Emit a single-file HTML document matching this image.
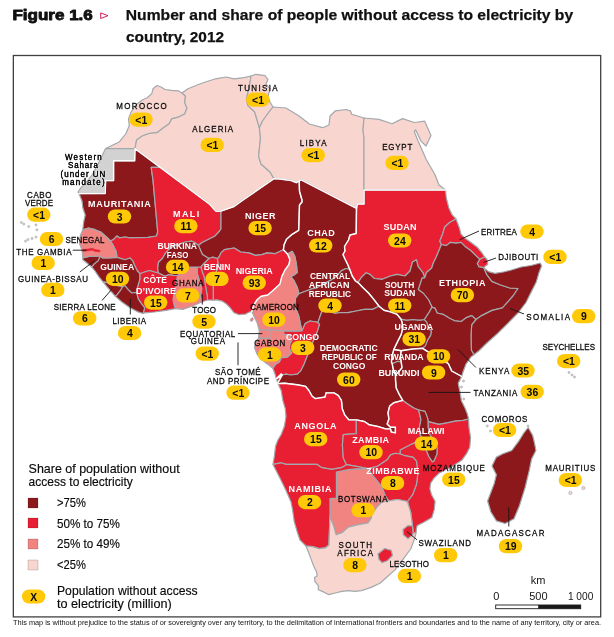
<!DOCTYPE html>
<html lang="en"><head><meta charset="utf-8"><title>Figure 1.6</title>
<style>
html,body{margin:0;padding:0;background:#fff;}
body{width:614px;height:637px;overflow:hidden;position:relative;font-family:"Liberation Sans",sans-serif;}
svg{position:absolute;left:0;top:0;display:block;}
text{font-family:"Liberation Sans",sans-serif;}
</style></head><body>
<svg width="614" height="637" viewBox="0 0 614 637">
<rect x="0" y="0" width="614" height="637" fill="#fff"/>
<g stroke="#a2a8ac" stroke-width="1.2" stroke-linejoin="round">
<polygon fill="#f8d6cf" points="105.6,148.6 109.8,146.5 119.5,141.7 126.0,133.5 129.3,125.4 128.5,118.9 131.0,112.3 135.8,105.0 142.3,100.0 147.2,97.7 151.8,93.6 153.0,88.7 157.0,85.5 161.0,87.0 165.0,89.5 171.7,90.4 178.2,90.8 182.0,93.0 185.5,96.0 184.7,102.6 187.0,108.3 184.7,114.0 178.2,117.2 171.7,118.9 169.2,123.7 163.5,127.8 157.0,132.7 148.9,133.5 142.3,136.0 136.6,140.0 135.0,148.6"/>
<polygon fill="#d2d2d2" points="79.0,193.6 78.0,192.0 81.0,187.7 86.0,182.5 92.0,175.0 97.0,166.0 101.7,156.4 105.6,148.6 135.0,148.6 134.7,160.8 113.6,160.8 113.6,180.6 105.6,180.6 105.2,193.5"/>
<polygon fill="#f8d6cf" points="182.0,93.0 188.0,88.7 197.7,84.7 207.0,81.5 215.6,78.8 226.0,77.0 234.0,78.8 244.0,77.7 251.0,76.0 249.5,86.0 246.4,99.0 248.0,105.6 254.7,112.0 259.4,128.0 260.5,138.0 258.6,156.4 261.0,164.0 270.0,172.0 274.0,178.6 242.0,200.8 234.0,206.5 221.0,211.0 216.3,211.4 214.6,209.8 210.0,204.5 160.3,167.4 135.0,148.6 136.6,140.0 142.3,136.0 148.9,133.5 157.0,132.7 163.5,127.8 169.2,123.7 171.7,118.9 178.2,117.2 184.7,114.0 187.0,108.3 184.7,102.6 185.5,96.0"/>
<polygon fill="#f8d6cf" points="251.0,76.0 256.0,74.3 265.0,75.6 268.0,79.5 266.0,84.0 270.0,88.7 268.0,96.5 270.0,102.0 273.0,107.0 269.0,112.0 262.5,121.0 259.4,128.0 254.7,112.0 248.0,105.6 246.4,99.0 249.5,86.0"/>
<polygon fill="#f8d6cf" points="273.0,107.0 286.0,108.0 299.0,116.0 309.4,124.0 322.5,127.7 329.0,125.0 330.0,116.0 335.5,110.8 346.0,109.5 350.4,110.8 351.7,114.2 364.0,118.0 363.0,130.0 364.0,138.0 364.0,190.0 364.0,204.0 357.4,204.0 356.5,208.3 301.2,179.8 299.2,181.0 296.3,182.7 291.4,180.6 280.0,179.0 274.0,178.6 270.0,172.0 261.0,164.0 258.6,156.4 260.5,138.0 259.4,128.0 262.5,121.0 269.0,112.0"/>
<polygon fill="#f8d6cf" points="364.0,118.0 379.0,119.4 392.0,123.8 402.5,118.6 414.3,122.5 424.7,121.2 431.0,135.6 426.0,146.0 420.8,140.8 415.6,129.8 414.3,131.7 418.0,140.8 426.0,159.0 435.0,174.7 439.0,185.0 445.5,190.0 364.0,190.0 364.0,138.0 363.0,130.0"/>
<polygon fill="#8c181b" points="79.0,193.6 105.2,193.5 105.6,180.6 113.6,180.6 113.6,160.8 134.7,160.8 135.0,148.6 160.3,167.4 151.2,167.4 153.0,180.0 157.7,232.0 156.5,236.0 148.0,237.3 130.0,237.8 125.0,237.0 119.4,237.8 117.0,236.0 113.7,239.4 110.5,241.0 107.2,237.8 100.7,232.0 95.0,229.7 88.5,228.0 82.8,229.7 83.6,222.3 85.2,215.0 82.8,207.7 82.0,201.0"/>
<polygon fill="#e81f33" points="160.3,167.4 210.0,204.5 214.6,209.8 216.3,211.4 221.0,211.0 221.0,229.0 219.6,231.0 214.7,236.3 208.2,239.5 201.7,242.8 198.4,245.5 195.0,242.8 191.9,241.2 185.4,242.0 178.0,244.5 170.7,247.7 165.8,252.6 162.6,258.3 158.5,262.3 157.7,268.9 158.5,273.0 154.4,272.0 149.5,270.5 144.7,272.0 139.8,273.7 137.4,271.0 135.0,266.3 132.5,260.6 130.0,258.0 125.0,259.8 117.0,257.4 116.2,251.7 113.0,245.0 110.5,241.0 113.7,239.4 117.0,236.0 119.4,237.8 125.0,237.0 130.0,237.8 148.0,237.3 156.5,236.0 157.7,232.0 153.0,180.0 151.2,167.4"/>
<polygon fill="#8c181b" points="221.0,211.0 234.0,206.5 242.0,200.8 274.0,178.6 280.0,179.0 291.4,180.6 296.3,182.7 299.2,181.0 299.5,191.2 302.0,200.0 302.0,202.0 299.5,205.0 298.7,230.3 292.2,234.3 286.5,239.2 284.0,245.0 283.4,249.8 274.9,253.7 266.8,252.9 261.9,254.6 255.4,255.4 248.9,252.9 240.7,252.0 234.2,248.0 224.4,249.7 221.2,252.6 218.6,257.8 217.3,258.5 212.5,257.2 208.9,258.5 206.5,257.0 202.4,254.5 200.4,250.0 198.4,245.5 201.7,242.8 208.2,239.5 214.7,236.3 219.6,231.0 221.0,229.0"/>
<polygon fill="#8c181b" points="299.2,181.0 301.2,179.8 356.5,208.3 356.2,233.5 350.0,235.0 348.5,240.0 344.5,246.5 345.0,251.0 343.0,254.5 345.0,259.0 347.5,264.0 349.8,269.5 346.0,268.5 341.2,270.9 336.3,276.6 331.4,279.9 323.3,284.0 316.8,288.0 311.9,288.9 305.4,291.3 298.9,293.7 297.2,287.2 294.0,280.7 290.7,276.6 294.0,275.0 297.2,272.6 296.4,264.4 294.8,256.3 292.3,251.4 287.5,254.0 283.4,249.8 284.0,245.0 286.5,239.2 292.2,234.3 298.7,230.3 299.5,205.0 302.0,202.0 302.0,200.0 299.5,191.2"/>
<polygon fill="#e81f33" points="364.0,190.0 445.5,190.0 446.3,198.0 448.8,207.7 452.0,214.7 456.0,219.0 449.6,222.5 444.7,227.0 442.6,234.0 439.8,241.0 441.4,244.5 439.8,248.4 436.5,256.5 433.3,263.0 431.7,268.0 426.5,272.5 424.7,277.7 423.0,272.8 418.0,266.3 416.5,259.8 412.5,262.0 410.0,271.0 405.0,276.0 397.0,274.4 390.5,276.0 382.3,279.3 374.2,278.5 370.0,274.4 366.0,272.8 361.2,277.7 358.0,282.6 355.5,281.0 352.2,276.0 349.8,269.5 347.5,264.0 345.0,259.0 343.0,254.5 345.0,251.0 344.5,246.5 348.5,240.0 350.0,235.0 356.2,233.5 356.5,208.3 357.4,204.0 364.0,204.0"/>
<polygon fill="#e81f33" points="441.4,244.5 439.8,241.0 442.6,234.0 444.7,227.0 449.6,222.5 456.0,219.0 459.3,227.7 461.0,234.2 465.0,238.3 470.7,242.3 477.2,247.2 482.0,253.0 484.6,257.0 479.7,259.4 475.6,255.4 470.7,250.5 465.0,246.4 461.0,242.3 456.0,243.2 450.4,242.3 446.3,245.6"/>
<polygon fill="#e81f33" points="479.7,259.4 484.6,257.0 487.0,259.4 487.8,264.3 485.4,266.0 483.7,267.6 478.9,266.8 477.2,263.5"/>
<polygon fill="#8c181b" points="441.4,244.5 446.3,245.6 450.4,242.3 456.0,243.2 461.0,242.3 465.0,246.4 470.7,250.5 475.6,255.4 479.7,259.4 477.2,263.5 478.9,266.8 483.7,267.6 487.0,274.9 491.9,281.4 500.0,284.7 509.8,288.0 518.0,288.5 513.0,296.0 502.5,307.8 492.0,310.4 481.7,315.6 476.0,319.5 471.7,315.6 466.4,317.6 461.2,321.5 454.7,320.8 449.5,318.2 443.0,314.3 437.1,313.0 435.2,308.4 431.9,307.1 428.7,300.0 423.5,293.5 418.2,289.5 419.5,285.6 422.1,277.8 424.7,277.7 426.5,272.5 431.7,268.0 433.3,263.0 436.5,256.5 439.8,248.4"/>
<polygon fill="#8c181b" points="483.7,267.6 488.6,271.7 495.0,273.3 503.3,272.0 511.4,270.0 521.2,267.0 531.0,265.5 540.3,263.0 541.6,266.0 539.0,272.6 536.4,281.7 531.2,292.0 526.0,302.5 518.0,313.0 507.8,323.4 497.3,333.8 486.9,343.0 479.0,350.7 473.9,354.7 471.3,350.0 471.0,335.1 471.7,324.7 476.0,319.5 481.7,315.6 492.0,310.4 502.5,307.8 513.0,296.0 518.0,288.5 509.8,288.0 500.0,284.7 491.9,281.4 487.0,274.9"/>
<polygon fill="#8c181b" points="431.9,307.1 435.2,308.4 437.1,313.0 443.0,314.3 449.5,318.2 454.7,320.8 461.2,321.5 466.4,317.6 471.7,315.6 476.0,319.5 471.7,324.7 471.0,335.1 471.3,350.0 473.9,354.7 471.0,357.0 466.0,364.0 463.0,372.0 461.7,376.5 451.7,371.0 448.4,363.7 428.9,352.3 422.5,348.3 425.4,345.6 427.4,340.4 430.6,335.1 431.3,331.2 428.0,327.3 426.7,322.1 424.1,319.5 426.0,316.9 429.3,311.7"/>
<polygon fill="#8c181b" points="401.0,319.2 406.5,320.2 413.0,319.5 419.5,320.2 424.1,319.5 426.7,322.1 428.0,327.3 431.3,331.2 430.6,335.1 427.4,340.4 425.4,345.6 422.5,348.3 412.6,349.0 401.2,350.7 393.8,349.5 397.1,342.6 401.2,334.4 402.8,327.9 402.0,322.0"/>
<polygon fill="#8c181b" points="393.8,349.5 401.2,350.7 400.4,357.2 401.2,362.0 397.9,361.3 392.2,363.7 391.4,362.0 392.2,355.6"/>
<polygon fill="#8c181b" points="392.2,363.7 397.9,361.3 401.2,362.0 402.0,367.8 398.7,371.9 395.5,375.0 393.0,368.6"/>
<polygon fill="#8c181b" points="401.2,350.7 412.6,349.0 422.5,348.3 428.9,352.3 448.4,363.7 451.7,371.0 461.7,376.5 458.2,383.3 459.8,391.0 461.5,401.0 465.0,408.0 467.3,413.9 468.6,419.0 463.3,420.4 455.1,421.2 447.0,422.8 438.9,424.4 428.2,421.7 427.5,417.9 425.0,411.4 418.6,410.0 413.3,407.7 408.4,404.4 402.7,400.4 399.4,394.7 396.2,388.0 395.5,380.0 395.5,375.0 398.7,371.9 402.0,367.8 401.2,362.0 400.4,357.2"/>
<polygon fill="#8c181b" points="358.0,282.6 361.2,277.7 366.0,272.8 370.0,274.4 374.2,278.5 382.3,279.3 390.5,276.0 397.0,274.4 405.0,276.0 410.0,271.0 412.5,262.0 416.5,259.8 418.0,266.3 423.0,272.8 424.7,277.7 422.1,277.8 419.5,285.6 418.2,289.5 423.5,293.5 428.7,300.0 431.9,307.1 429.3,311.7 426.0,316.9 424.1,319.5 419.5,320.2 413.0,319.5 406.5,320.2 401.0,319.2 397.0,314.3 390.5,311.9 384.0,310.3 379.0,306.2 373.4,298.9 368.5,293.0 362.8,287.5"/>
<polygon fill="#8c181b" points="298.9,293.7 305.4,291.3 311.9,288.9 316.8,288.0 323.3,284.0 331.4,279.9 336.3,276.6 341.2,270.9 346.0,268.5 349.8,269.5 352.2,276.0 355.5,281.0 358.0,282.6 362.8,287.5 368.5,293.0 373.4,298.9 379.0,306.2 372.6,309.4 364.4,309.4 356.3,311.0 348.0,312.7 341.2,312.5 334.7,313.3 326.5,310.8 321.7,311.7 320.0,316.5 318.0,322.5 316.3,322.0 310.0,321.0 305.2,323.5 302.0,331.0 300.5,324.7 298.9,316.5 296.4,310.0 294.8,304.3 295.6,297.8"/>
<polygon fill="#f18381" points="298.9,293.7 297.2,287.2 294.0,280.7 290.7,276.6 294.0,275.0 297.2,272.6 296.4,264.4 294.8,256.3 292.3,251.4 287.5,254.0 289.9,259.5 289.0,264.4 285.0,270.0 281.8,276.6 280.0,283.9 273.0,290.4 267.8,295.0 261.2,296.3 257.3,299.5 254.7,303.5 252.8,308.0 251.9,311.3 254.1,316.5 257.3,323.0 258.6,328.2 259.3,330.0 269.9,330.0 283.7,331.0 290.7,331.2 297.2,331.2 302.0,331.0 300.5,324.7 298.9,316.5 296.4,310.0 294.8,304.3 295.6,297.8"/>
<polygon fill="#e81f33" points="283.4,249.8 274.9,253.7 266.8,252.9 261.9,254.6 255.4,255.4 248.9,252.9 240.7,252.0 234.2,248.0 224.4,249.7 221.2,252.6 218.6,257.8 217.3,258.5 218.0,264.3 215.5,275.0 213.2,285.2 213.2,300.2 216.9,299.8 222.1,301.1 226.1,303.7 230.0,307.6 233.9,312.6 239.1,314.7 245.6,314.1 249.5,311.9 251.9,311.3 252.8,308.0 254.7,303.5 257.3,299.5 261.2,296.3 267.8,295.0 273.0,290.4 280.0,283.9 281.8,276.6 285.0,270.0 289.0,264.4 289.9,259.5 287.5,254.0"/>
<polygon fill="#e81f33" points="208.9,258.5 212.5,257.2 217.3,258.5 218.0,264.3 215.5,275.0 213.2,285.2 213.2,300.2 207.6,300.0 207.0,294.3 205.6,286.5 204.3,277.4 202.3,272.0 200.8,267.0 204.3,263.0"/>
<polygon fill="#e81f33" points="197.0,267.0 200.8,267.0 202.3,272.0 204.3,277.4 205.6,286.5 207.0,294.3 207.6,300.0 201.7,302.0 200.4,295.6 201.7,289.0 199.1,280.0 197.1,273.5"/>
<polygon fill="#f18381" points="177.6,275.5 182.0,272.0 187.0,268.9 190.0,267.0 197.0,267.0 197.1,273.5 199.1,280.0 201.7,289.0 200.4,295.6 201.7,302.0 192.6,306.0 183.5,309.3 175.6,308.6 174.3,306.0 173.0,299.5 174.5,291.0 176.3,282.6"/>
<polygon fill="#8c181b" points="158.5,273.0 157.7,268.9 158.5,262.3 162.6,258.3 165.8,252.6 170.7,247.7 178.0,244.5 185.4,242.0 191.9,241.2 195.0,242.8 198.4,245.5 200.4,250.0 202.4,254.5 206.5,257.0 208.9,258.5 204.3,263.0 200.8,267.0 197.0,267.0 190.0,267.0 187.0,268.9 182.0,272.0 177.6,275.5 173.2,275.4 169.0,274.6 165.0,276.2"/>
<polygon fill="#e81f33" points="139.8,273.7 144.7,272.0 149.5,270.5 154.4,272.0 158.5,273.0 165.0,276.2 169.0,274.6 173.2,275.4 177.6,275.5 176.3,282.6 174.5,291.0 173.0,299.5 174.3,306.0 175.6,308.6 165.8,310.4 154.4,312.0 144.7,312.8 143.0,313.5 144.7,307.8 141.4,303.7 138.2,298.9 136.5,292.3 137.4,287.5 139.8,279.3"/>
<polygon fill="#8c181b" points="117.0,257.4 125.0,259.8 130.0,258.0 132.5,260.6 135.0,266.3 137.4,271.0 139.8,273.7 139.8,279.3 137.4,287.5 136.5,292.3 131.7,293.0 128.4,289.9 125.0,285.8 122.7,286.6 118.6,285.8 113.7,285.0 107.2,282.6 103.0,281.8 99.0,276.9 95.0,271.0 91.8,267.0 94.2,263.9 98.3,260.6 100.0,256.0 102.3,257.9 108.9,258.0"/>
<polygon fill="#8c181b" points="103.0,281.8 107.2,282.6 113.7,285.0 118.6,285.8 122.7,286.6 120.3,290.7 117.0,294.8 115.4,296.4 108.9,289.0"/>
<polygon fill="#8c181b" points="122.7,286.6 125.0,285.8 128.4,289.9 131.7,293.0 136.5,292.3 138.2,298.9 141.4,303.7 144.7,307.8 143.0,313.5 138.0,311.9 130.0,307.8 121.9,302.0 115.4,296.4 117.0,294.8 120.3,290.7"/>
<polygon fill="#8c181b" points="82.8,257.9 89.3,256.5 100.0,256.0 98.3,260.6 94.2,263.9 91.8,267.0 86.9,263.0 82.8,259.8"/>
<polygon fill="#f18381" points="82.8,229.7 88.5,228.0 95.0,229.7 100.7,232.0 107.2,237.8 110.5,241.0 113.0,245.0 116.2,251.7 117.0,257.4 108.9,258.0 102.3,257.9 100.0,256.0 89.3,256.5 82.8,257.9 82.0,250.0 79.5,243.5 80.4,235.4"/>
<polygon fill="#e81f33" stroke="#e81f33" stroke-width="0.5" points="82.8,249.6 88.0,249.0 92.5,248.3 95.0,249.6 100.0,250.2 100.0,251.8 95.0,251.4 92.5,250.2 88.0,250.8 82.8,251.4"/>
<polygon fill="#f18381" points="259.3,330.0 269.9,330.0 269.9,338.3 258.5,338.3"/>
<polygon fill="#f18381" points="283.7,331.0 269.9,330.0 269.9,338.3 258.5,338.3 256.0,342.3 254.4,347.2 257.0,354.0 260.0,358.5 264.0,361.5 268.1,364.4 273.0,368.5 275.5,364.4 279.5,362.0 281.2,357.9 287.7,357.1 291.8,353.0 289.3,348.1 290.1,343.3 291.9,340.7 290.3,335.0 283.7,334.2"/>
<polygon fill="#e81f33" points="283.7,331.0 290.7,331.2 297.2,331.2 302.0,331.0 305.2,323.5 310.0,321.0 316.3,322.0 318.0,322.5 319.6,324.4 317.0,332.6 313.7,340.0 310.5,348.1 307.2,356.3 304.0,364.4 300.7,370.9 297.5,374.2 290.9,375.0 286.0,374.2 282.3,375.0 281.2,373.9 276.3,378.8 275.0,374.0 273.0,368.5 275.5,364.4 279.5,362.0 281.2,357.9 287.7,357.1 291.8,353.0 289.3,348.1 290.1,343.3 291.9,340.7 290.3,335.0 283.7,334.2"/>
<polygon fill="#e81f33" points="276.3,378.8 281.2,373.9 282.3,375.0 277.9,382.7"/>
<polygon fill="#8c181b" points="318.0,322.5 320.0,316.5 321.7,311.7 326.5,310.8 334.7,313.3 341.2,312.5 348.0,312.7 356.3,311.0 364.4,309.4 372.6,309.4 379.0,306.2 384.0,310.3 390.5,311.9 397.0,314.3 401.0,319.2 402.0,322.0 402.8,327.9 401.2,334.4 397.1,342.6 393.8,349.5 392.2,355.6 391.4,362.0 392.2,363.7 393.0,368.6 395.5,375.0 395.5,380.0 396.2,388.0 399.4,394.7 402.7,400.4 393.7,402.8 389.7,406.0 388.0,412.6 388.9,419.0 387.2,424.0 390.5,427.2 395.4,427.2 395.4,432.9 391.3,432.0 390.5,428.9 385.6,428.9 377.5,426.4 369.3,424.8 364.4,421.5 356.3,419.9 348.8,419.8 344.7,414.9 342.2,408.4 341.4,400.3 338.2,395.4 334.1,392.9 326.0,392.9 325.1,397.0 315.4,398.6 312.1,396.2 308.9,390.5 305.6,386.4 297.5,384.8 284.4,383.2 277.9,383.6 277.9,382.7 282.3,375.0 286.0,374.2 290.9,375.0 297.5,374.2 300.7,370.9 304.0,364.4 307.2,356.3 310.5,348.1 313.7,340.0 317.0,332.6 319.6,324.4"/>
<polygon fill="#e81f33" points="277.9,383.6 284.4,383.2 297.5,384.8 305.6,386.4 308.9,390.5 312.1,396.2 315.4,398.6 325.1,397.0 326.0,392.9 334.1,392.9 338.2,395.4 341.4,400.3 342.2,408.4 344.7,414.9 348.8,419.8 356.3,419.9 356.3,433.7 343.3,434.6 342.4,445.0 343.3,458.0 346.5,464.7 341.4,467.7 331.7,469.3 321.9,467.7 317.0,464.4 286.0,464.4 281.0,462.8 273.0,464.4 274.3,456.4 275.6,446.0 277.9,440.0 281.2,434.5 284.4,426.3 286.0,416.5 285.2,408.4 282.8,400.3 281.2,390.5"/>
<polygon fill="#e81f33" points="356.3,419.9 364.4,421.5 369.3,424.8 377.5,426.4 385.6,428.9 390.5,428.9 391.3,432.0 395.4,432.9 395.4,427.2 390.5,427.2 387.2,424.0 388.9,419.0 388.0,412.6 389.7,406.0 393.7,402.8 402.7,400.4 408.4,404.4 413.3,407.7 418.6,410.0 421.0,419.5 419.3,427.7 420.0,434.2 423.0,440.0 416.5,441.9 410.0,445.0 400.3,450.0 400.3,454.0 395.4,453.3 390.5,454.9 387.2,459.8 382.3,463.0 377.5,466.3 368.0,468.5 356.3,466.3 346.5,464.7 343.3,458.0 342.4,445.0 343.3,434.6 356.3,433.7"/>
<polygon fill="#8c181b" points="418.6,410.0 425.0,411.4 427.5,417.9 428.2,421.7 428.3,427.7 429.9,434.2 433.0,440.0 437.2,447.2 437.2,453.7 434.0,461.0 432.3,461.9 429.0,457.0 426.6,451.3 423.0,440.0 420.0,434.2 419.3,427.7 421.0,419.5"/>
<polygon fill="#e81f33" points="428.2,421.7 438.9,424.4 447.0,422.8 455.1,421.2 463.3,420.4 468.6,419.0 469.0,427.7 470.6,437.5 469.8,447.2 466.5,453.7 461.7,460.3 452.0,466.5 438.9,473.3 434.0,478.2 430.7,483.0 429.9,488.8 431.5,494.7 435.1,501.2 434.3,509.3 431.9,517.5 423.7,522.3 417.2,525.6 416.4,528.9 416.0,533.0 413.0,533.0 412.5,526.0 410.7,512.5 407.4,501.5 412.6,494.7 416.5,484.2 417.8,473.8 416.5,461.4 413.3,457.4 405.0,455.7 400.3,454.0 400.3,450.0 410.0,445.0 416.5,441.9 423.0,440.0 426.6,451.3 429.0,457.0 432.3,461.9 434.0,461.0 437.2,453.7 437.2,447.2 433.0,440.0 429.9,434.2 428.3,427.7"/>
<polygon fill="#e81f33" points="368.0,468.5 377.5,466.3 382.3,463.0 387.2,459.8 390.5,454.9 395.4,453.3 400.3,454.0 405.0,455.7 413.3,457.4 416.5,461.4 417.8,473.8 416.5,484.2 412.6,494.7 407.4,501.5 397.7,499.5 388.6,500.8 386.0,497.0 384.2,493.3 381.9,487.0 376.4,480.0 372.0,474.5"/>
<polygon fill="#f18381" points="368.0,468.5 364.0,468.7 356.0,468.8 348.2,469.7 336.4,472.0 336.4,498.2 330.0,498.7 330.0,516.0 333.7,526.3 336.2,534.8 341.9,532.8 348.4,527.1 358.2,524.7 368.0,523.0 371.2,518.1 371.6,515.0 376.8,507.3 382.0,502.0 388.6,500.8 386.0,497.0 384.2,493.3 381.9,487.0 376.4,480.0 372.0,474.5"/>
<polygon fill="#e81f33" points="273.0,464.4 281.0,462.8 286.0,464.4 317.0,464.4 321.9,467.7 331.7,469.3 341.4,467.7 346.5,464.7 356.3,466.3 368.0,468.5 364.0,468.7 356.0,468.8 348.2,469.7 336.4,472.0 336.4,498.2 330.0,498.7 330.0,516.0 328.9,545.0 325.6,547.8 319.0,548.6 312.6,546.6 306.0,546.0 300.0,540.0 297.5,532.8 294.2,521.4 292.6,510.0 291.0,502.0 286.0,490.5 280.4,479.0 276.3,471.0"/>
<polygon fill="#f8d6cf" points="306.0,546.0 312.6,546.6 319.0,548.6 325.6,547.8 328.9,545.0 330.0,516.0 333.7,526.3 336.2,534.8 341.9,532.8 348.4,527.1 358.2,524.7 368.0,523.0 371.2,518.1 371.6,515.0 376.8,507.3 382.0,502.0 388.6,500.8 397.7,499.5 407.4,501.5 410.7,512.5 412.5,526.0 413.0,533.0 416.0,533.0 414.6,538.6 410.7,549.0 403.0,559.4 395.0,569.9 384.7,579.0 380.0,583.3 371.2,587.4 361.4,590.6 354.9,591.4 348.4,590.6 341.9,591.4 335.4,593.0 328.9,594.7 322.3,591.4 318.3,589.8 318.3,585.7 315.0,581.7 314.5,577.6 317.1,576.0 316.6,571.9 313.4,565.4 311.0,558.9 308.5,552.3"/>
<polygon fill="#e81f33" points="403.0,529.5 408.0,525.6 412.5,526.0 413.0,533.0 412.8,534.7 408.0,538.6 403.4,534.7"/>
<polygon fill="#e81f33" points="378.0,554.0 384.7,548.5 391.2,550.3 392.5,555.5 387.3,560.7 382.0,562.6 379.0,559.4"/>
<polygon fill="#8c181b" points="528.2,427.5 532.6,435.2 534.5,443.0 535.9,450.5 531.5,459.3 529.3,470.3 525.0,487.9 519.5,505.5 514.0,518.7 505.2,523.5 496.4,520.9 490.9,512.0 487.6,501.0 490.9,492.3 494.2,483.5 496.4,474.7 492.0,465.9 496.4,457.1 503.0,453.8 511.8,450.5 518.4,441.7 523.8,433.0"/>
</g>
<g fill="none" stroke="#fff" stroke-width="1.4" stroke-linejoin="round" stroke-linecap="round">
<polyline points="79.0,193.6 105.2,193.5 105.6,180.6 113.6,180.6 113.6,160.8 134.7,160.8 135.0,148.6 160.3,167.4 210.0,204.5 214.6,209.8 216.3,211.4 221.0,211.0 234.0,206.5 242.0,200.8 274.0,178.6 280.0,179.0 291.4,180.6 296.3,182.7 299.2,181.0 301.2,179.8 356.5,208.3 357.4,204.0 364.0,204.0 364.0,190.0 445.5,190.0"/>
<polyline points="299.2,181.0 299.5,191.2 302.0,200.0 302.0,202.0 299.5,205.0 298.7,230.3 292.2,234.3 286.5,239.2 284.0,245.0 283.4,249.8 287.5,254.0 289.9,259.5 289.0,264.4 285.0,270.0 281.8,276.6 280.0,283.9 273.0,290.4 267.8,295.0 261.2,296.3 257.3,299.5 254.7,303.5 252.8,308.0 251.9,311.3"/>
<polyline points="356.5,208.3 356.2,233.5 350.0,235.0 348.5,240.0 344.5,246.5 345.0,251.0 343.0,254.5 345.0,259.0 347.5,264.0 349.8,269.5 352.2,276.0 355.5,281.0 358.0,282.6 362.8,287.5 368.5,293.0 373.4,298.9 379.0,306.2 384.0,310.3 390.5,311.9 397.0,314.3 401.0,319.2 402.0,322.0 402.8,327.9 401.2,334.4 397.1,342.6 393.8,349.5 392.2,355.6 391.4,362.0 392.2,363.7 393.0,368.6 395.5,375.0 395.5,380.0 396.2,388.0 399.4,394.7 402.7,400.4 393.7,402.8 389.7,406.0 388.0,412.6 388.9,419.0 387.2,424.0 390.5,427.2 395.4,427.2 395.4,432.9 391.3,432.0 390.5,428.9 385.6,428.9 377.5,426.4 369.3,424.8 364.4,421.5 356.3,419.9 348.8,419.8 344.7,414.9 342.2,408.4 341.4,400.3 338.2,395.4 334.1,392.9 326.0,392.9 325.1,397.0 315.4,398.6 312.1,396.2 308.9,390.5 305.6,386.4 297.5,384.8 284.4,383.2 277.9,383.6"/>
<polyline points="393.8,349.5 401.2,350.7 412.6,349.0 422.5,348.3 428.9,352.3 448.4,363.7 451.7,371.0 461.7,376.5"/>
<polyline points="401.2,350.7 400.4,357.2 401.2,362.0 402.0,367.8 398.7,371.9 395.5,375.0"/>
<polyline points="282.3,375.0 281.2,373.9 276.3,378.8 282.3,375.0 277.9,382.7"/>
</g>
<g fill="#d4d4d4" stroke="#a0a0a0" stroke-width="0.6">
<circle cx="21.4" cy="222.5" r="1"/>
<circle cx="23.8" cy="224.1" r="1"/>
<circle cx="28.7" cy="226.5" r="1"/>
<circle cx="36" cy="224.9" r="1"/>
<circle cx="36.9" cy="229.8" r="1"/>
<circle cx="36" cy="237.1" r="1"/>
<circle cx="32" cy="238.4" r="1"/>
<circle cx="27.9" cy="239.6" r="1"/>
<circle cx="25.5" cy="241.2" r="1"/>
<circle cx="487.3" cy="426" r="1"/>
<circle cx="490.5" cy="431" r="1"/>
<circle cx="528" cy="426" r="1"/>
<circle cx="569" cy="372.5" r="1"/>
<circle cx="572" cy="375" r="1"/>
<circle cx="574.5" cy="377" r="1"/>
<circle cx="463.5" cy="381" r="1"/>
<circle cx="461.5" cy="387" r="1"/>
<circle cx="463.8" cy="399" r="1"/>
<circle cx="583.4" cy="488" r="1.6" fill="#f8d6cf"/><circle cx="570.4" cy="492.9" r="1.6" fill="#f8d6cf"/><ellipse cx="251.8" cy="319.6" rx="1.3" ry="2" fill="#f18381" transform="rotate(30 251.8 319.6)"/>
</g>
<g stroke="#151515" stroke-width="0.9" fill="none">
<line x1="72.7" y1="250.2" x2="86.5" y2="250.2"/>
<line x1="79.8" y1="272" x2="94.5" y2="260.7"/>
<line x1="102" y1="300.5" x2="111.7" y2="289.4"/>
<line x1="130.3" y1="299" x2="130.3" y2="314.5"/>
<line x1="202.3" y1="294.5" x2="202.3" y2="304.5"/>
<line x1="238" y1="333.6" x2="262.4" y2="333.6"/>
<line x1="238" y1="342.4" x2="238" y2="365.2"/>
<line x1="479" y1="231" x2="459.6" y2="239.7"/>
<line x1="496" y1="258" x2="483.3" y2="262.5"/>
<line x1="524" y1="314" x2="510" y2="308.5"/>
<line x1="458" y1="349.5" x2="475.9" y2="367.5"/>
<line x1="428.5" y1="392.4" x2="470.5" y2="392.4"/>
<line x1="508.8" y1="507.3" x2="508.8" y2="526.5"/>
<line x1="406.8" y1="531.6" x2="417" y2="539.8"/>
</g>
<g>
<rect x="129.3" y="112.5" width="23.4" height="14.2" rx="7.1" ry="7.1" fill="#ffc908"/><text x="135.3" y="123.8" font-size="10.4" font-weight="bold" fill="#0a0a0a" textLength="11.9" lengthAdjust="spacingAndGlyphs">&lt;1</text>
<rect x="200.5" y="137.8" width="23.4" height="14.2" rx="7.1" ry="7.1" fill="#ffc908"/><text x="206.5" y="149.1" font-size="10.4" font-weight="bold" fill="#0a0a0a" textLength="11.9" lengthAdjust="spacingAndGlyphs">&lt;1</text>
<rect x="246.1" y="92.6" width="23.4" height="14.2" rx="7.1" ry="7.1" fill="#ffc908"/><text x="252.1" y="103.9" font-size="10.4" font-weight="bold" fill="#0a0a0a" textLength="11.9" lengthAdjust="spacingAndGlyphs">&lt;1</text>
<rect x="301.5" y="148.1" width="23.4" height="14.2" rx="7.1" ry="7.1" fill="#ffc908"/><text x="307.5" y="159.3" font-size="10.4" font-weight="bold" fill="#0a0a0a" textLength="11.9" lengthAdjust="spacingAndGlyphs">&lt;1</text>
<rect x="385.4" y="155.8" width="23.4" height="14.2" rx="7.1" ry="7.1" fill="#ffc908"/><text x="391.4" y="167.1" font-size="10.4" font-weight="bold" fill="#0a0a0a" textLength="11.9" lengthAdjust="spacingAndGlyphs">&lt;1</text>
<rect x="27.1" y="207.6" width="23.4" height="14.2" rx="7.1" ry="7.1" fill="#ffc908"/><text x="33.1" y="218.8" font-size="10.4" font-weight="bold" fill="#0a0a0a" textLength="11.9" lengthAdjust="spacingAndGlyphs">&lt;1</text>
<rect x="39.8" y="231.9" width="23.4" height="14.2" rx="7.1" ry="7.1" fill="#ffc908"/><text x="48.8" y="243.2" font-size="10.4" font-weight="bold" fill="#0a0a0a" textLength="5.8" lengthAdjust="spacingAndGlyphs">6</text>
<rect x="31.5" y="255.8" width="23.4" height="14.2" rx="7.1" ry="7.1" fill="#ffc908"/><text x="40.5" y="267.0" font-size="10.4" font-weight="bold" fill="#0a0a0a" textLength="5.8" lengthAdjust="spacingAndGlyphs">1</text>
<rect x="41.1" y="282.8" width="23.4" height="14.2" rx="7.1" ry="7.1" fill="#ffc908"/><text x="50.1" y="294.0" font-size="10.4" font-weight="bold" fill="#0a0a0a" textLength="5.8" lengthAdjust="spacingAndGlyphs">1</text>
<rect x="73.0" y="311.2" width="23.4" height="14.2" rx="7.1" ry="7.1" fill="#ffc908"/><text x="82.0" y="322.4" font-size="10.4" font-weight="bold" fill="#0a0a0a" textLength="5.8" lengthAdjust="spacingAndGlyphs">6</text>
<rect x="117.9" y="325.9" width="23.4" height="14.2" rx="7.1" ry="7.1" fill="#ffc908"/><text x="126.9" y="337.1" font-size="10.4" font-weight="bold" fill="#0a0a0a" textLength="5.8" lengthAdjust="spacingAndGlyphs">4</text>
<rect x="107.8" y="209.4" width="23.4" height="14.2" rx="7.1" ry="7.1" fill="#ffc908"/><text x="116.8" y="220.7" font-size="10.4" font-weight="bold" fill="#0a0a0a" textLength="5.8" lengthAdjust="spacingAndGlyphs">3</text>
<rect x="174.2" y="219.0" width="23.4" height="14.2" rx="7.1" ry="7.1" fill="#ffc908"/><text x="180.6" y="230.2" font-size="10.4" font-weight="bold" fill="#0a0a0a" textLength="11.0" lengthAdjust="spacingAndGlyphs">11</text>
<rect x="248.4" y="221.0" width="23.4" height="14.2" rx="7.1" ry="7.1" fill="#ffc908"/><text x="254.5" y="232.2" font-size="10.4" font-weight="bold" fill="#0a0a0a" textLength="11.6" lengthAdjust="spacingAndGlyphs">15</text>
<rect x="309.0" y="238.4" width="23.4" height="14.2" rx="7.1" ry="7.1" fill="#ffc908"/><text x="315.1" y="249.7" font-size="10.4" font-weight="bold" fill="#0a0a0a" textLength="11.6" lengthAdjust="spacingAndGlyphs">12</text>
<rect x="388.0" y="233.4" width="23.4" height="14.2" rx="7.1" ry="7.1" fill="#ffc908"/><text x="394.1" y="244.7" font-size="10.4" font-weight="bold" fill="#0a0a0a" textLength="11.6" lengthAdjust="spacingAndGlyphs">24</text>
<rect x="520.3" y="224.5" width="23.4" height="14.2" rx="7.1" ry="7.1" fill="#ffc908"/><text x="529.3" y="235.8" font-size="10.4" font-weight="bold" fill="#0a0a0a" textLength="5.8" lengthAdjust="spacingAndGlyphs">4</text>
<rect x="543.3" y="249.8" width="23.4" height="14.2" rx="7.1" ry="7.1" fill="#ffc908"/><text x="549.3" y="261.0" font-size="10.4" font-weight="bold" fill="#0a0a0a" textLength="11.9" lengthAdjust="spacingAndGlyphs">&lt;1</text>
<rect x="450.7" y="288.0" width="23.4" height="14.2" rx="7.1" ry="7.1" fill="#ffc908"/><text x="456.8" y="299.2" font-size="10.4" font-weight="bold" fill="#0a0a0a" textLength="11.6" lengthAdjust="spacingAndGlyphs">70</text>
<rect x="572.0" y="309.1" width="23.4" height="14.2" rx="7.1" ry="7.1" fill="#ffc908"/><text x="581.0" y="320.3" font-size="10.4" font-weight="bold" fill="#0a0a0a" textLength="5.8" lengthAdjust="spacingAndGlyphs">9</text>
<rect x="388.0" y="298.5" width="23.4" height="14.2" rx="7.1" ry="7.1" fill="#ffc908"/><text x="394.4" y="309.8" font-size="10.4" font-weight="bold" fill="#0a0a0a" textLength="11.0" lengthAdjust="spacingAndGlyphs">11</text>
<rect x="402.4" y="332.0" width="23.4" height="14.2" rx="7.1" ry="7.1" fill="#ffc908"/><text x="408.5" y="343.2" font-size="10.4" font-weight="bold" fill="#0a0a0a" textLength="11.6" lengthAdjust="spacingAndGlyphs">31</text>
<rect x="426.8" y="349.2" width="23.4" height="14.2" rx="7.1" ry="7.1" fill="#ffc908"/><text x="432.9" y="360.4" font-size="10.4" font-weight="bold" fill="#0a0a0a" textLength="11.6" lengthAdjust="spacingAndGlyphs">10</text>
<rect x="421.9" y="365.4" width="23.4" height="14.2" rx="7.1" ry="7.1" fill="#ffc908"/><text x="430.9" y="376.6" font-size="10.4" font-weight="bold" fill="#0a0a0a" textLength="5.8" lengthAdjust="spacingAndGlyphs">9</text>
<rect x="511.3" y="363.4" width="23.4" height="14.2" rx="7.1" ry="7.1" fill="#ffc908"/><text x="517.4" y="374.6" font-size="10.4" font-weight="bold" fill="#0a0a0a" textLength="11.6" lengthAdjust="spacingAndGlyphs">35</text>
<rect x="520.5" y="384.7" width="23.4" height="14.2" rx="7.1" ry="7.1" fill="#ffc908"/><text x="526.6" y="395.9" font-size="10.4" font-weight="bold" fill="#0a0a0a" textLength="11.6" lengthAdjust="spacingAndGlyphs">36</text>
<rect x="557.0" y="354.0" width="23.4" height="14.2" rx="7.1" ry="7.1" fill="#ffc908"/><text x="563.0" y="365.2" font-size="10.4" font-weight="bold" fill="#0a0a0a" textLength="11.9" lengthAdjust="spacingAndGlyphs">&lt;1</text>
<rect x="492.9" y="422.9" width="23.4" height="14.2" rx="7.1" ry="7.1" fill="#ffc908"/><text x="498.9" y="434.1" font-size="10.4" font-weight="bold" fill="#0a0a0a" textLength="11.9" lengthAdjust="spacingAndGlyphs">&lt;1</text>
<rect x="558.7" y="472.9" width="23.4" height="14.2" rx="7.1" ry="7.1" fill="#ffc908"/><text x="564.7" y="484.1" font-size="10.4" font-weight="bold" fill="#0a0a0a" textLength="11.9" lengthAdjust="spacingAndGlyphs">&lt;1</text>
<rect x="442.0" y="472.5" width="23.4" height="14.2" rx="7.1" ry="7.1" fill="#ffc908"/><text x="448.1" y="483.8" font-size="10.4" font-weight="bold" fill="#0a0a0a" textLength="11.6" lengthAdjust="spacingAndGlyphs">15</text>
<rect x="498.8" y="539.1" width="23.4" height="14.2" rx="7.1" ry="7.1" fill="#ffc908"/><text x="504.9" y="550.4" font-size="10.4" font-weight="bold" fill="#0a0a0a" textLength="11.6" lengthAdjust="spacingAndGlyphs">19</text>
<rect x="434.0" y="548.1" width="23.4" height="14.2" rx="7.1" ry="7.1" fill="#ffc908"/><text x="443.0" y="559.4" font-size="10.4" font-weight="bold" fill="#0a0a0a" textLength="5.8" lengthAdjust="spacingAndGlyphs">1</text>
<rect x="397.7" y="568.8" width="23.4" height="14.2" rx="7.1" ry="7.1" fill="#ffc908"/><text x="406.7" y="580.0" font-size="10.4" font-weight="bold" fill="#0a0a0a" textLength="5.8" lengthAdjust="spacingAndGlyphs">1</text>
<rect x="343.2" y="558.0" width="23.4" height="14.2" rx="7.1" ry="7.1" fill="#ffc908"/><text x="352.2" y="569.2" font-size="10.4" font-weight="bold" fill="#0a0a0a" textLength="5.8" lengthAdjust="spacingAndGlyphs">8</text>
<rect x="351.4" y="503.1" width="23.4" height="14.2" rx="7.1" ry="7.1" fill="#ffc908"/><text x="360.4" y="514.4" font-size="10.4" font-weight="bold" fill="#0a0a0a" textLength="5.8" lengthAdjust="spacingAndGlyphs">1</text>
<rect x="297.9" y="495.0" width="23.4" height="14.2" rx="7.1" ry="7.1" fill="#ffc908"/><text x="306.9" y="506.2" font-size="10.4" font-weight="bold" fill="#0a0a0a" textLength="5.8" lengthAdjust="spacingAndGlyphs">2</text>
<rect x="380.9" y="475.9" width="23.4" height="14.2" rx="7.1" ry="7.1" fill="#ffc908"/><text x="389.9" y="487.1" font-size="10.4" font-weight="bold" fill="#0a0a0a" textLength="5.8" lengthAdjust="spacingAndGlyphs">8</text>
<rect x="359.3" y="445.1" width="23.4" height="14.2" rx="7.1" ry="7.1" fill="#ffc908"/><text x="365.4" y="456.3" font-size="10.4" font-weight="bold" fill="#0a0a0a" textLength="11.6" lengthAdjust="spacingAndGlyphs">10</text>
<rect x="414.7" y="436.4" width="23.4" height="14.2" rx="7.1" ry="7.1" fill="#ffc908"/><text x="420.8" y="447.6" font-size="10.4" font-weight="bold" fill="#0a0a0a" textLength="11.6" lengthAdjust="spacingAndGlyphs">14</text>
<rect x="304.0" y="432.0" width="23.4" height="14.2" rx="7.1" ry="7.1" fill="#ffc908"/><text x="310.1" y="443.2" font-size="10.4" font-weight="bold" fill="#0a0a0a" textLength="11.6" lengthAdjust="spacingAndGlyphs">15</text>
<rect x="337.0" y="372.4" width="23.4" height="14.2" rx="7.1" ry="7.1" fill="#ffc908"/><text x="343.1" y="383.6" font-size="10.4" font-weight="bold" fill="#0a0a0a" textLength="11.6" lengthAdjust="spacingAndGlyphs">60</text>
<rect x="291.0" y="340.7" width="23.4" height="14.2" rx="7.1" ry="7.1" fill="#ffc908"/><text x="300.0" y="351.9" font-size="10.4" font-weight="bold" fill="#0a0a0a" textLength="5.8" lengthAdjust="spacingAndGlyphs">3</text>
<rect x="258.0" y="347.3" width="23.4" height="14.2" rx="7.1" ry="7.1" fill="#ffc908"/><text x="267.0" y="358.5" font-size="10.4" font-weight="bold" fill="#0a0a0a" textLength="5.8" lengthAdjust="spacingAndGlyphs">1</text>
<rect x="195.5" y="346.5" width="23.4" height="14.2" rx="7.1" ry="7.1" fill="#ffc908"/><text x="201.5" y="357.8" font-size="10.4" font-weight="bold" fill="#0a0a0a" textLength="11.9" lengthAdjust="spacingAndGlyphs">&lt;1</text>
<rect x="226.3" y="385.6" width="23.4" height="14.2" rx="7.1" ry="7.1" fill="#ffc908"/><text x="232.3" y="396.8" font-size="10.4" font-weight="bold" fill="#0a0a0a" textLength="11.9" lengthAdjust="spacingAndGlyphs">&lt;1</text>
<rect x="262.2" y="312.6" width="23.4" height="14.2" rx="7.1" ry="7.1" fill="#ffc908"/><text x="268.3" y="323.8" font-size="10.4" font-weight="bold" fill="#0a0a0a" textLength="11.6" lengthAdjust="spacingAndGlyphs">10</text>
<rect x="318.3" y="298.5" width="23.4" height="14.2" rx="7.1" ry="7.1" fill="#ffc908"/><text x="327.3" y="309.8" font-size="10.4" font-weight="bold" fill="#0a0a0a" textLength="5.8" lengthAdjust="spacingAndGlyphs">4</text>
<rect x="242.6" y="275.6" width="23.4" height="14.2" rx="7.1" ry="7.1" fill="#ffc908"/><text x="248.7" y="286.8" font-size="10.4" font-weight="bold" fill="#0a0a0a" textLength="11.6" lengthAdjust="spacingAndGlyphs">93</text>
<rect x="205.3" y="271.8" width="23.4" height="14.2" rx="7.1" ry="7.1" fill="#ffc908"/><text x="214.3" y="283.0" font-size="10.4" font-weight="bold" fill="#0a0a0a" textLength="5.8" lengthAdjust="spacingAndGlyphs">7</text>
<rect x="192.3" y="314.5" width="23.4" height="14.2" rx="7.1" ry="7.1" fill="#ffc908"/><text x="201.3" y="325.8" font-size="10.4" font-weight="bold" fill="#0a0a0a" textLength="5.8" lengthAdjust="spacingAndGlyphs">5</text>
<rect x="176.0" y="288.3" width="23.4" height="14.2" rx="7.1" ry="7.1" fill="#ffc908"/><text x="185.0" y="299.5" font-size="10.4" font-weight="bold" fill="#0a0a0a" textLength="5.8" lengthAdjust="spacingAndGlyphs">7</text>
<rect x="165.9" y="259.8" width="23.4" height="14.2" rx="7.1" ry="7.1" fill="#ffc908"/><text x="172.0" y="271.0" font-size="10.4" font-weight="bold" fill="#0a0a0a" textLength="11.6" lengthAdjust="spacingAndGlyphs">14</text>
<rect x="144.0" y="295.5" width="23.4" height="14.2" rx="7.1" ry="7.1" fill="#ffc908"/><text x="150.1" y="306.8" font-size="10.4" font-weight="bold" fill="#0a0a0a" textLength="11.6" lengthAdjust="spacingAndGlyphs">15</text>
<rect x="105.8" y="271.7" width="23.4" height="14.2" rx="7.1" ry="7.1" fill="#ffc908"/><text x="111.9" y="282.9" font-size="10.4" font-weight="bold" fill="#0a0a0a" textLength="11.6" lengthAdjust="spacingAndGlyphs">10</text>
</g>
<g font-size="9.5" fill="#0a0a0a" stroke="#0a0a0a" stroke-width="0.3">
<text transform="translate(116.3,108.8) scale(0.840,1)" style="letter-spacing:1.58px">MOROCCO</text>
<text transform="translate(192.3,131.6) scale(0.840,1)" style="letter-spacing:1.21px">ALGERIA</text>
<text transform="translate(238,91.2) scale(0.840,1)" style="letter-spacing:1.63px">TUNISIA</text>
<text transform="translate(299.8,145.9) scale(0.840,1)" style="letter-spacing:1.39px">LIBYA</text>
<text transform="translate(382.2,149.8) scale(0.840,1)" style="letter-spacing:0.91px">EGYPT</text>
<text transform="translate(27,197.7) scale(0.840,1)" style="letter-spacing:0.75px">CABO</text>
<text transform="translate(25,205.5) scale(0.840,1)" style="letter-spacing:0.15px">VERDE</text>
<text transform="translate(65.4,242.6) scale(0.840,1)" style="letter-spacing:0.28px">SENEGAL</text>
<text transform="translate(16.2,254.6) scale(0.840,1)" style="letter-spacing:0.82px">THE GAMBIA</text>
<text transform="translate(18,281.9) scale(0.840,1)" style="letter-spacing:0.74px">GUINEA-BISSAU</text>
<text transform="translate(53.7,310.1) scale(0.840,1)" style="letter-spacing:0.36px">SIERRA LEONE</text>
<text transform="translate(112.4,324.1) scale(0.840,1)" style="letter-spacing:0.59px">LIBERIA</text>
<text transform="translate(172,285.9) scale(0.840,1)" style="letter-spacing:0.99px">GHANA</text>
<text transform="translate(192.3,312.9) scale(0.840,1)" style="letter-spacing:0.14px">TOGO</text>
<text transform="translate(180,337.4) scale(0.840,1)" style="letter-spacing:0.61px">EQUATORIAL</text>
<text transform="translate(190.7,344.2) scale(0.840,1)" style="letter-spacing:0.88px">GUINEA</text>
<text transform="translate(215,374.7) scale(0.840,1)" style="letter-spacing:0.66px">SÃO TOMÉ</text>
<text transform="translate(207,383.5) scale(0.840,1)" style="letter-spacing:0.57px">AND PRÍNCIPE</text>
<text transform="translate(250.3,310.4) scale(0.840,1)" style="letter-spacing:0.27px">CAMEROON</text>
<text transform="translate(254.2,345.7) scale(0.840,1)" style="letter-spacing:0.65px">GABON</text>
<text transform="translate(481,234.9) scale(0.840,1)" style="letter-spacing:0.24px">ERITREA</text>
<text transform="translate(498.3,260.3) scale(0.840,1)" style="letter-spacing:0.62px">DJIBOUTI</text>
<text transform="translate(526.3,319.9) scale(0.840,1)" style="letter-spacing:1.63px">SOMALIA</text>
<text transform="translate(479,374.2) scale(0.840,1)" style="letter-spacing:1.17px">KENYA</text>
<text transform="translate(473.6,395.7) scale(0.840,1)" style="letter-spacing:0.82px">TANZANIA</text>
<text transform="translate(542.5,350.3) scale(0.840,1)" style="letter-spacing:0.02px">SEYCHELLES</text>
<text transform="translate(481.4,421.6) scale(0.840,1)" style="letter-spacing:0.77px">COMOROS</text>
<text transform="translate(422.8,470.9) scale(0.840,1)" style="letter-spacing:1.01px">MOZAMBIQUE</text>
<text transform="translate(545.3,470.9) scale(0.840,1)" style="letter-spacing:0.92px">MAURITIUS</text>
<text transform="translate(476.4,535.8) scale(0.840,1)" style="letter-spacing:1.50px">MADAGASCAR</text>
<text transform="translate(418.5,546.2) scale(0.840,1)" style="letter-spacing:0.93px">SWAZILAND</text>
<text transform="translate(389.4,566.9) scale(0.840,1)" style="letter-spacing:0.29px">LESOTHO</text>
<text transform="translate(338,502.2) scale(0.840,1)" style="letter-spacing:0.70px">BOTSWANA</text>
<text transform="translate(338.6,548.1) scale(0.840,1)" style="letter-spacing:1.63px">SOUTH</text>
<text transform="translate(337.3,556.3) scale(0.840,1)" style="letter-spacing:1.53px">AFRICA</text>
</g>
<g font-size="9.5" fill="#0a0a0a" stroke="#fff" stroke-opacity="0.8" stroke-width="1.3" stroke-linejoin="round" paint-order="stroke">
<text transform="translate(65,159.7) scale(0.840,1)" style="letter-spacing:1.44px">Western</text>
<text transform="translate(68,167.9) scale(0.840,1)" style="letter-spacing:1.02px">Sahara</text>
<text transform="translate(60.6,176.6) scale(0.840,1)" style="letter-spacing:1.19px">(under UN</text>
<text transform="translate(62.2,184.5) scale(0.840,1)" style="letter-spacing:1.48px">mandate)</text>
</g>
<g font-size="9.5" fill="#0a0a0a" stroke="#0a0a0a" stroke-width="0.3">
<text transform="translate(65,159.7) scale(0.840,1)" style="letter-spacing:1.44px">Western</text>
<text transform="translate(68,167.9) scale(0.840,1)" style="letter-spacing:1.02px">Sahara</text>
<text transform="translate(60.6,176.6) scale(0.840,1)" style="letter-spacing:1.19px">(under UN</text>
<text transform="translate(62.2,184.5) scale(0.840,1)" style="letter-spacing:1.48px">mandate)</text>
</g>
<g font-size="9" font-weight="bold" fill="#fff">
<text x="88" y="206.5" textLength="62.8" lengthAdjust="spacing">MAURITANIA</text>
<text x="173" y="216.7" textLength="26.3" lengthAdjust="spacing">MALI</text>
<text x="245" y="218.9" textLength="30.4" lengthAdjust="spacing">NIGER</text>
<text x="307.3" y="236.1" textLength="27.4" lengthAdjust="spacing">CHAD</text>
<text x="383.5" y="230.2" textLength="33.1" lengthAdjust="spacing">SUDAN</text>
<text x="157.5" y="248.7" textLength="39.5" lengthAdjust="spacingAndGlyphs">BURKINA</text>
<text x="166.8" y="257.7" textLength="21.5" lengthAdjust="spacingAndGlyphs">FASO</text>
<text x="100.3" y="270.4" textLength="33.9" lengthAdjust="spacingAndGlyphs">GUINEA</text>
<text x="143.3" y="282.9" textLength="23.5" lengthAdjust="spacingAndGlyphs">CÔTE</text>
<text x="136" y="293.5" textLength="40.0" lengthAdjust="spacing">D’IVOIRE</text>
<text x="203.7" y="269.9" textLength="26.8" lengthAdjust="spacingAndGlyphs">BENIN</text>
<text x="235.7" y="274.2" textLength="37.1" lengthAdjust="spacingAndGlyphs">NIGERIA</text>
<text x="310" y="279.4" textLength="40.0" lengthAdjust="spacingAndGlyphs">CENTRAL</text>
<text x="308.7" y="287.9" textLength="40.7" lengthAdjust="spacing">AFRICAN</text>
<text x="308.7" y="296.7" textLength="42.3" lengthAdjust="spacingAndGlyphs">REPUBLIC</text>
<text x="385" y="287.7" textLength="29.3" lengthAdjust="spacingAndGlyphs">SOUTH</text>
<text x="384.2" y="295.9" textLength="31.0" lengthAdjust="spacingAndGlyphs">SUDAN</text>
<text x="439" y="285.9" textLength="46.4" lengthAdjust="spacing">ETHIOPIA</text>
<text x="394.5" y="330.1" textLength="38.5" lengthAdjust="spacingAndGlyphs">UGANDA</text>
<text x="384.3" y="360.1" textLength="39.3" lengthAdjust="spacingAndGlyphs">RWANDA</text>
<text x="378.4" y="376.2" textLength="41.0" lengthAdjust="spacingAndGlyphs">BURUNDI</text>
<text x="286" y="340.2" textLength="33.2" lengthAdjust="spacingAndGlyphs">CONGO</text>
<text x="319.7" y="351.1" textLength="58.0" lengthAdjust="spacingAndGlyphs">DEMOCRATIC</text>
<text x="321.7" y="360.2" textLength="55.0" lengthAdjust="spacingAndGlyphs">REPUBLIC OF</text>
<text x="333" y="369.3" textLength="32.3" lengthAdjust="spacingAndGlyphs">CONGO</text>
<text x="294.3" y="429.1" textLength="42.3" lengthAdjust="spacing">ANGOLA</text>
<text x="352.2" y="443.3" textLength="36.8" lengthAdjust="spacing">ZAMBIA</text>
<text x="407.7" y="433.9" textLength="36.8" lengthAdjust="spacing">MALAWI</text>
<text x="366.3" y="474.2" textLength="53.1" lengthAdjust="spacing">ZIMBABWE</text>
<text x="288.4" y="492.1" textLength="43.0" lengthAdjust="spacing">NAMIBIA</text>
</g>
<rect x="13.35" y="55.5" width="587.35" height="561.4" fill="none" stroke="#404040" stroke-width="1.3"/>
<text x="12.4" y="20.2" font-size="15.4" font-weight="bold" fill="#111" stroke="#111" stroke-width="0.9" stroke-linejoin="round" textLength="80.4" lengthAdjust="spacingAndGlyphs">Figure 1.6</text>
<polygon points="100.7,12.9 108,15.7 100.7,18.5" fill="none" stroke="#cf1f58" stroke-width="1" stroke-linejoin="miter"/>
<text x="125.8" y="20.2" font-size="15" font-weight="bold" fill="#111" stroke="#111" stroke-width="0.25" textLength="447.3" lengthAdjust="spacingAndGlyphs">Number and share of people without access to electricity by</text>
<text x="126" y="42.3" font-size="15" font-weight="bold" fill="#111" stroke="#111" stroke-width="0.25" textLength="98" lengthAdjust="spacingAndGlyphs">country, 2012</text>
<g font-size="12.4" fill="#0a0a0a" stroke="#0a0a0a" stroke-width="0.15">
<text x="28.6" y="473.3" textLength="151" lengthAdjust="spacingAndGlyphs">Share of population without</text>
<text x="28.6" y="485.8" textLength="104.2" lengthAdjust="spacingAndGlyphs">access to electricity</text>
<rect x="28" y="498.0" width="10" height="10" fill="#8c181b"/>
<text x="57" y="506.8" textLength="28.8" lengthAdjust="spacingAndGlyphs">&gt;75%</text>
<rect x="28" y="518.0" width="10" height="10" fill="#e81f33"/>
<text x="57" y="527.6" textLength="62.9" lengthAdjust="spacingAndGlyphs">50% to 75%</text>
<rect x="28" y="539.0" width="10" height="10" fill="#f18381"/>
<text x="57" y="548.4" textLength="62.9" lengthAdjust="spacingAndGlyphs">25% to 49%</text>
<rect x="28" y="560.0" width="10" height="10" fill="#f8d6cf"/>
<text x="57" y="569.2" textLength="28.8" lengthAdjust="spacingAndGlyphs">&lt;25%</text>
<text x="57" y="594.7" textLength="140.7" lengthAdjust="spacingAndGlyphs">Population without access</text>
<text x="57" y="607.5" textLength="114.7" lengthAdjust="spacingAndGlyphs">to electricity (million)</text>
</g>
<rect x="21.9" y="589.4" width="23.4" height="14.2" rx="7.1" ry="7.1" fill="#ffc908"/><text x="30.3" y="600.6" font-size="10.4" font-weight="bold" fill="#0a0a0a" textLength="6.9" lengthAdjust="spacingAndGlyphs">X</text>
<g font-size="11" fill="#151515" text-anchor="middle">
<text x="538.2" y="583.9">km</text><text x="496.2" y="600">0</text><text x="538.4" y="600">500</text><text x="580.6" y="600" textLength="25.4" lengthAdjust="spacingAndGlyphs">1 000</text>
</g>
<rect x="495.7" y="605" width="85" height="3.7" fill="#fff" stroke="#1a1a1a" stroke-width="0.9"/><rect x="538.2" y="605" width="42.5" height="3.7" fill="#1a1a1a"/>
<text x="13" y="625.4" font-size="7.5" fill="#111" textLength="588" lengthAdjust="spacingAndGlyphs">This map is without prejudice to the status of or sovereignty over any territory, to the delimitation of international frontiers and boundaries and to the name of any territory, city or area.</text>
</svg>
</body></html>
